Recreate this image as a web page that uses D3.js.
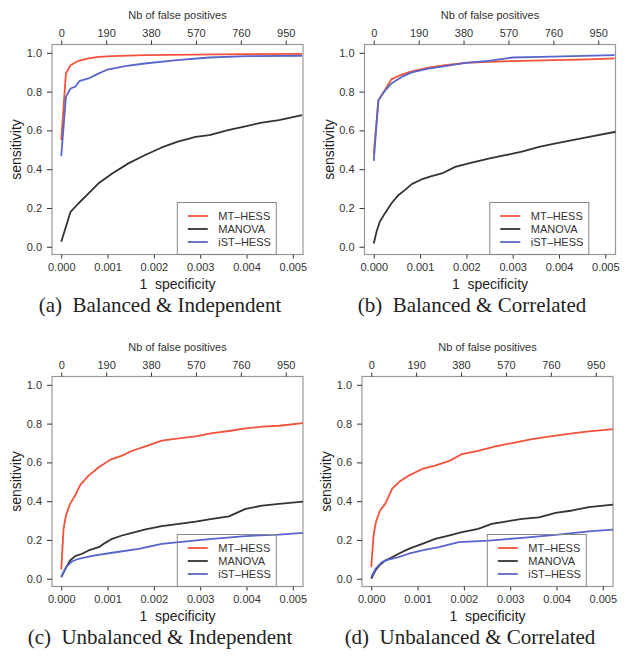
<!DOCTYPE html>
<html>
<head>
<meta charset="utf-8">
<script src="https://cdn.jsdelivr.net/npm/d3@7"></script>
<style>
  body { margin: 0; background: #fff; }
  text { font-family: "Liberation Sans", Arial, sans-serif; }
</style>
</head>
<body>
<div id="chart"></div>
<script>
// curves: [1 - specificity, sensitivity]
const aMT = [[0,0.55],[0.0001,0.893],[0.0002,0.936],[0.00037,0.959],[0.00059,0.971],[0.0008,0.979],[0.0011,0.983],[0.0018,0.988],[0.0029,0.991],[0.004,0.993],[0.0052,0.995]];
const aMAN = [[0,0.026],[0.0001,0.103],[0.0002,0.18],[0.00037,0.223],[0.00059,0.275],[0.0008,0.326],[0.0011,0.378],[0.00145,0.43],[0.0018,0.472],[0.00217,0.512],[0.0025,0.541],[0.0029,0.567],[0.0032,0.576],[0.0036,0.601],[0.004,0.622],[0.0043,0.639],[0.0047,0.653],[0.0052,0.679]];
const aIST = [[0,0.467],[0.0001,0.773],[0.0002,0.816],[0.0003,0.825],[0.0004,0.856],[0.00059,0.868],[0.0008,0.893],[0.001,0.914],[0.00138,0.931],[0.0018,0.945],[0.0025,0.962],[0.0032,0.976],[0.004,0.983],[0.0052,0.985]];

const bMT = [[0,0.481],[0.0001,0.756],[0.00024,0.808],[0.00038,0.863],[0.0006,0.888],[0.00082,0.905],[0.00118,0.924],[0.00154,0.936],[0.00198,0.948],[0.00248,0.954],[0.0032,0.959],[0.0039,0.962],[0.00465,0.966],[0.0052,0.971]];
const bMAN = [[0,0.017],[0.00006,0.077],[0.00013,0.129],[0.00024,0.172],[0.00038,0.223],[0.00053,0.266],[0.00067,0.292],[0.00082,0.323],[0.00103,0.347],[0.00125,0.364],[0.00147,0.378],[0.00176,0.412],[0.00205,0.43],[0.00248,0.455],[0.00284,0.472],[0.0032,0.49],[0.00357,0.515],[0.00393,0.533],[0.00429,0.55],[0.00465,0.567],[0.00523,0.593]];
const bIST = [[0,0.443],[0.0001,0.756],[0.00024,0.804],[0.00038,0.842],[0.0006,0.876],[0.00082,0.899],[0.00118,0.919],[0.00154,0.931],[0.00198,0.948],[0.00248,0.959],[0.003,0.976],[0.0036,0.979],[0.0043,0.983],[0.0052,0.988]];

const cMT = [[0,0.048],[0.00005,0.257],[0.0001,0.326],[0.00019,0.386],[0.0003,0.429],[0.00041,0.484],[0.00059,0.532],[0.00081,0.575],[0.00106,0.614],[0.00131,0.635],[0.00153,0.66],[0.00182,0.683],[0.00217,0.712],[0.00254,0.724],[0.0029,0.734],[0.00326,0.751],[0.00362,0.762],[0.00398,0.775],[0.00434,0.784],[0.0047,0.789],[0.00524,0.803]];
const cMAN = [[0,0.009],[0.00009,0.051],[0.00019,0.094],[0.0003,0.117],[0.00045,0.129],[0.00059,0.146],[0.00081,0.163],[0.00095,0.185],[0.0011,0.206],[0.00131,0.223],[0.00153,0.237],[0.00182,0.254],[0.00217,0.271],[0.00254,0.283],[0.0029,0.295],[0.00326,0.309],[0.00362,0.322],[0.00398,0.36],[0.00434,0.377],[0.0047,0.386],[0.00524,0.398]];
const cIST = [[0,0.009],[0.0001,0.06],[0.00023,0.089],[0.00037,0.103],[0.00073,0.12],[0.0011,0.134],[0.00167,0.154],[0.00217,0.18],[0.00254,0.189],[0.00326,0.206],[0.00398,0.22],[0.0047,0.228],[0.00524,0.237]];

const dMT = [[0,0.06],[0.00005,0.223],[0.0001,0.292],[0.00019,0.352],[0.0003,0.386],[0.00045,0.463],[0.00059,0.497],[0.00081,0.532],[0.0011,0.566],[0.00138,0.583],[0.0017,0.609],[0.00196,0.643],[0.00231,0.66],[0.00268,0.683],[0.00304,0.7],[0.00347,0.72],[0.00398,0.738],[0.00434,0.75],[0.0047,0.76],[0.00524,0.772]];
const dMAN = [[0,0.0],[0.00009,0.043],[0.00019,0.072],[0.0003,0.094],[0.00045,0.111],[0.00059,0.129],[0.00081,0.154],[0.0011,0.18],[0.00138,0.206],[0.00167,0.223],[0.00196,0.24],[0.00231,0.257],[0.0026,0.283],[0.0029,0.295],[0.00326,0.309],[0.00362,0.317],[0.00398,0.34],[0.00434,0.352],[0.0047,0.369],[0.00524,0.383]];
const dIST = [[0,0.009],[0.00009,0.051],[0.00023,0.086],[0.00037,0.099],[0.00059,0.111],[0.00081,0.129],[0.0011,0.146],[0.00146,0.163],[0.00189,0.189],[0.00254,0.197],[0.00326,0.211],[0.00398,0.226],[0.0047,0.244],[0.00524,0.254]];

const seriesNames = ['MT\u2013HESS', 'MANOVA', 'iST\u2013HESS'];
const seriesColors = ['#f4513a', '#333333', '#5766cc'];
const captions = ['(a)\u2002Balanced & Independent', '(b)\u2002Balanced & Correlated',
                  '(c)\u2002Unbalanced & Independent', '(d)\u2002Unbalanced & Correlated'];
const xTicks = [0, 0.001, 0.002, 0.003, 0.004, 0.005];
const yTicks = [0, 0.2, 0.4, 0.6, 0.8, 1.0];
const fpTicks = [0, 190, 380, 570, 760, 950];
const FP_PER_UNIT = 196000; // negatives, links 1-specificity to the top axis

const panels = [
    { left: 52, top: 44.5, cap: 160, series: [aMT, aMAN, aIST] },
    { left: 364.5, top: 44.5, cap: 472, series: [bMT, bMAN, bIST] },
    { left: 52, top: 376.5, cap: 160, series: [cMT, cMAN, cIST] },
    { left: 362, top: 376.5, cap: 470, series: [dMT, dMAN, dIST] }
];
const W = 251, H = 210;

const svg = d3.select('#chart').append('svg')
    .attr('width', 627)
    .attr('height', 658);

const styleAxis = (g) => {
    g.select('.domain').remove();
    g.selectAll('line').attr('stroke', '#333').attr('stroke-width', 1);
    g.selectAll('text').attr('fill', '#333').style('font-size', '11px')
        .style('font-family', '"Liberation Sans", Arial, sans-serif');
};

panels.forEach((p, i) => {
    const chart = svg.append('g').attr('transform', `translate(${p.left},${p.top})`);

    const x = d3.scaleLinear().domain([-0.0002, 0.00522]).range([0, W]);
    const y = d3.scaleLinear().domain([-0.04, 1.043]).range([H, 0]);
    const xTop = d3.scaleLinear().domain(x.domain().map(d => d * FP_PER_UNIT)).range([0, W]);

    chart.append('rect')
        .attr('width', W).attr('height', H)
        .attr('fill', '#fff')
        .attr('stroke', '#999').attr('stroke-width', 1.2);

    chart.append('defs').append('clipPath').attr('id', 'clip' + i)
        .append('rect').attr('width', W).attr('height', H);

    const line = d3.line().x(d => x(d[0])).y(d => y(d[1]));

    chart.append('g').attr('clip-path', `url(#clip${i})`)
        .selectAll('path')
        .data(p.series)
        .enter()
        .append('path')
        .attr('d', line)
        .attr('fill', 'none')
        .attr('stroke', (d, k) => seriesColors[k])
        .attr('stroke-width', 1.8)
        .attr('stroke-linejoin', 'round');

    chart.append('g')
        .attr('transform', `translate(0,${H})`)
        .call(d3.axisBottom(x).tickValues(xTicks).tickFormat(d3.format('.3f')).tickSize(4).tickPadding(5))
        .call(styleAxis);

    chart.append('g')
        .call(d3.axisLeft(y).tickValues(yTicks).tickFormat(d3.format('.1f')).tickSize(5).tickPadding(5))
        .call(styleAxis);

    chart.append('g')
        .call(d3.axisTop(xTop).tickValues(fpTicks).tickFormat(d3.format('d')).tickSize(4).tickPadding(4))
        .call(styleAxis);

    chart.append('text')
        .attr('x', W / 2).attr('y', -26)
        .attr('text-anchor', 'middle')
        .attr('fill', '#333')
        .style('font-size', '11px')
        .text('Nb of false positives');

    chart.append('text')
        .attr('x', W / 2).attr('y', H + 34)
        .attr('text-anchor', 'middle')
        .attr('fill', '#222')
        .style('font-size', '14px')
        .style('white-space', 'pre')
        .text('1  specificity');

    chart.append('text')
        .attr('transform', `translate(-31,${H / 2}) rotate(-90)`)
        .attr('text-anchor', 'middle')
        .attr('fill', '#222')
        .style('font-size', '14px')
        .text('sensitivity');

    svg.append('text')
        .attr('x', p.cap).attr('y', p.top + H + 57.5)
        .attr('text-anchor', 'middle')
        .attr('fill', '#222')
        .style('font-family', '"Liberation Serif", "Times New Roman", serif')
        .style('font-size', '21px')
        .style('white-space', 'pre')
        .text(captions[i]);

    // legend, sitting on the bottom spine
    const lw = 99, lx = W - 26.7 - lw, ly = H - 52;
    const legend = chart.append('g').attr('transform', `translate(${lx},${ly})`);
    legend.append('rect')
        .attr('width', lw).attr('height', 52)
        .attr('fill', 'none')
        .attr('stroke', '#888').attr('stroke-width', 1);
    seriesNames.forEach((name, k) => {
        const ry = 13.5 + k * 13;
        legend.append('line')
            .attr('x1', 10.5).attr('x2', 30.5)
            .attr('y1', ry).attr('y2', ry)
            .attr('stroke', seriesColors[k]).attr('stroke-width', 1.8);
        legend.append('text')
            .attr('x', 41).attr('y', ry).attr('dy', '0.35em')
            .attr('fill', '#333')
            .style('font-size', '11px')
            .text(name);
    });
});
</script>
</body>
</html>
